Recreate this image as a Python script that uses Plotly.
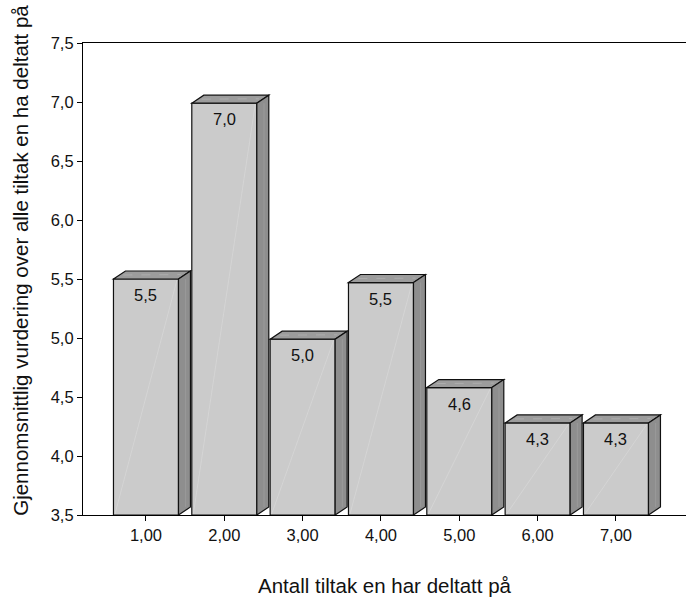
import plotly.graph_objects as go

# Mean rating by number of measures attended
categories = [1, 2, 3, 4, 5, 6, 7]
tick_labels = ["1,00", "2,00", "3,00", "4,00", "5,00", "6,00", "7,00"]
mean_scores = [5.50, 6.99, 4.99, 5.47, 4.58, 4.28, 4.28]
y_ticks = [3.5, 4.0, 4.5, 5.0, 5.5, 6.0, 6.5, 7.0, 7.5]

Y_MIN, Y_MAX = 3.5, 7.5
X_MIN, X_MAX = 0.196, 7.894
BAR_W = 0.83          # front face width in category units
DEPTH_X = 0.153       # 3D extrusion, x units
DEPTH_Y = 0.068       # 3D extrusion, y units

FRONT = "#cbcbcb"
TOP = "#9c9c9c"
SIDE = "#8e8e8e"
EDGE = "#111111"
FONT = "Liberation Sans, Arial, sans-serif"
TICK_SIZE = 16.5
TITLE_SIZE = 20.5


def fmt(v, nd):
    return f"{v:.{nd}f}".replace(".", ",")


fig = go.Figure()

fig.add_trace(go.Bar(
    x=categories,
    y=[v - Y_MIN for v in mean_scores],
    base=Y_MIN,
    width=BAR_W,
    marker=dict(color=FRONT, line=dict(color=EDGE, width=1.2)),
    hoverinfo="skip",
))

shapes = []
annotations = []
for c, v in zip(categories, mean_scores):
    l = c - BAR_W / 2
    r = c + BAR_W / 2
    # top face
    shapes.append(dict(
        type="path", xref="x", yref="y", layer="above",
        path=f"M {l},{v} L {l + DEPTH_X},{v + DEPTH_Y} L {r + DEPTH_X},{v + DEPTH_Y} L {r},{v} Z",
        fillcolor=TOP, line=dict(color=EDGE, width=1.2),
    ))
    # side face
    shapes.append(dict(
        type="path", xref="x", yref="y", layer="above",
        path=f"M {r},{Y_MIN} L {r + DEPTH_X},{Y_MIN + DEPTH_Y} L {r + DEPTH_X},{v + DEPTH_Y} L {r},{v} Z",
        fillcolor=SIDE, line=dict(color=EDGE, width=1.2),
    ))
    # soft highlights
    shapes.append(dict(
        type="line", xref="x", yref="y", layer="above",
        x0=l + 0.02, y0=Y_MIN + 0.01, x1=r - 0.02, y1=v - 0.01,
        line=dict(color="#d9d9d9", width=0.7),
    ))
    shapes.append(dict(
        type="line", xref="x", yref="y", layer="above",
        x0=l + DEPTH_X * 0.5 + 0.05, y0=v + DEPTH_Y * 0.5,
        x1=r + DEPTH_X * 0.5 - 0.05, y1=v + DEPTH_Y * 0.55,
        line=dict(color="#b4b4b4", width=0.7, dash="dash"),
    ))
    shapes.append(dict(
        type="line", xref="x", yref="y", layer="above",
        x0=r + DEPTH_X * 0.6, y0=Y_MIN + DEPTH_Y,
        x1=r + DEPTH_X * 0.6, y1=v,
        line=dict(color="#a0a0a0", width=0.7),
    ))
    annotations.append(dict(
        x=c, y=v, xref="x", yref="y", text=fmt(v, 1),
        showarrow=False, yanchor="top", yshift=-5,
        font=dict(family=FONT, size=TICK_SIZE, color="#111111"),
    ))

# axis titles
annotations.append(dict(
    x=0.5, y=-0.150, xref="paper", yref="paper",
    xanchor="center", yanchor="middle",
    text="Antall tiltak en har deltatt på", showarrow=False,
    font=dict(family=FONT, size=TITLE_SIZE, color="#111111"),
))
annotations.append(dict(
    x=-0.105, y=0.540, xref="paper", yref="paper",
    xanchor="center", yanchor="middle",
    text="Gjennomsnittlig vurdering over alle tiltak en ha deltatt på",
    showarrow=False, textangle=-90,
    font=dict(family=FONT, size=TITLE_SIZE, color="#111111"),
))

fig.update_layout(
    width=686, height=597,
    margin=dict(l=83, r=0, t=43, b=82),
    paper_bgcolor="white", plot_bgcolor="white",
    separators=",.",
    showlegend=False,
    shapes=shapes,
    annotations=annotations,
    font=dict(family=FONT, size=TICK_SIZE, color="#111111"),
    xaxis=dict(
        range=[X_MIN, X_MAX], tickmode="array", tickvals=categories,
        ticktext=tick_labels, showgrid=False, zeroline=False,
        showline=True, linecolor="black", linewidth=1.2, mirror=True,
        ticks="outside", ticklen=5, tickcolor="black",
        tickfont=dict(family=FONT, size=TICK_SIZE, color="#111111"),
    ),
    yaxis=dict(
        range=[Y_MIN, Y_MAX], tickmode="array", tickvals=y_ticks,
        ticktext=[fmt(t, 1) for t in y_ticks], showgrid=False, zeroline=False,
        showline=True, linecolor="black", linewidth=1.2,
        ticks="outside", ticklen=5, tickcolor="black",
        tickfont=dict(family=FONT, size=TICK_SIZE, color="#111111"),
    ),
)

fig.write_html("out.html")
